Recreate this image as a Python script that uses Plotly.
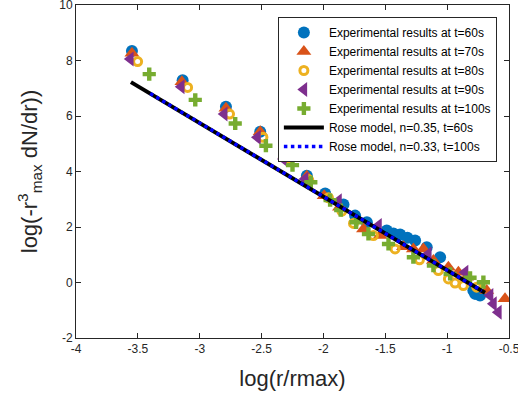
import plotly.graph_objects as go

# ---- data ----
x60 = [-3.548, -3.138, -2.788, -2.511, -2.314, -2.134, -1.986, -1.838, -1.744, -1.649, -1.488, -1.434,
       -1.380, -1.321, -1.259, -1.165, -1.057, -0.788, -0.774, -0.734]
y60 = [8.345, 7.29, 6.33, 5.43, 4.59, 3.85, 3.21, 2.81, 2.41, 2.17, 1.87, 1.77,
       1.73, 1.61, 1.51, 1.27, 0.91, -0.29, -0.41, -0.47]

x70 = [-3.548, -3.144, -2.788, -2.511, -2.309, -2.134, -1.994, -1.870, -1.676, -1.542, -1.353, -1.273,
       -1.192, -1.111, -0.990, -0.909, -0.842, -0.680, -0.532]
y70 = [8.26, 7.23, 6.28, 5.43, 4.60, 3.83, 3.13, 2.71, 1.93, 1.69, 1.29, 1.21,
       1.21, 0.79, 0.55, 0.37, 0.19, -0.29, -0.59]

x80 = [-3.502, -3.098, -2.759, -2.489, -2.290, -2.121, -1.959, -1.851, -1.757, -1.596, -1.421, -1.224,
       -1.071, -0.990, -0.936, -0.869, -0.761]
y80 = [7.96, 7.03, 6.07, 5.23, 4.45, 3.71, 3.05, 2.57, 2.13, 1.69, 1.21, 0.82,
       0.43, 0.13, -0.02, -0.11, -0.17]

x90 = [-3.561, -3.149, -2.802, -2.533, -2.323, -2.148, -1.878, -1.555, -1.152, -0.855, -0.653, -0.626, -0.586]
y90 = [8.05, 7.05, 6.07, 5.23, 4.45, 3.73, 2.95, 2.05, 1.03, 0.37, -0.47, -0.77, -1.07]

x100 = [-3.408, -3.036, -2.713, -2.465, -2.250, -2.102, -1.946, -1.860, -1.736, -1.636, -1.474, -1.273,
        -1.111, -0.976, -0.815, -0.707]
y100 = [7.51, 6.58, 5.73, 4.93, 4.23, 3.61, 2.97, 2.61, 2.17, 1.75, 1.39, 0.91,
        0.61, 0.31, 0.17, 0.01]

rose60_x = [-3.556, -0.694]
rose60_y = [7.22, -0.37]
rose100_x = [-3.40, -0.72]
rose100_y = [6.81, -0.30]

x_ticks = [-4, -3.5, -3, -2.5, -2, -1.5, -1, -0.5]
x_ticklabels = ["-4", "-3.5", "-3", "-2.5", "-2", "-1.5", "-1", "-0.5"]
y_ticks = [-2, 0, 2, 4, 6, 8, 10]
y_ticklabels = ["-2", "0", "2", "4", "6", "8", "10"]

FONT = "Liberation Sans, Arial, sans-serif"
AX = "#262626"

fig = go.Figure()
fig.add_trace(go.Scatter(x=x60, y=y60, mode="markers", name="Experimental results at t=60s",
                         marker=dict(symbol="circle", size=12, color="#0072BD",
                                     line=dict(width=0))))
fig.add_trace(go.Scatter(x=x70, y=y70, mode="markers", name="Experimental results at t=70s",
                         marker=dict(symbol="triangle-up", size=13, color="#D95319",
                                     line=dict(width=0))))
fig.add_trace(go.Scatter(x=x80, y=y80, mode="markers", name="Experimental results at t=80s",
                         marker=dict(symbol="circle-open", size=8, color="#EDB120",
                                     line=dict(width=3, color="#EDB120"))))
fig.add_trace(go.Scatter(x=x90, y=y90, mode="markers", name="Experimental results at t=90s",
                         marker=dict(symbol="triangle-left", size=13, color="#7E2F8E",
                                     line=dict(width=0))))
fig.add_trace(go.Scatter(x=x100, y=y100, mode="markers", name="Experimental results at t=100s",
                         marker=dict(symbol="cross", size=11, color="#77AC30",
                                     line=dict(width=0))))
fig.add_trace(go.Scatter(x=rose60_x, y=rose60_y, mode="lines", name="Rose model, n=0.35, t=60s",
                         line=dict(color="black", width=4)))
fig.add_trace(go.Scatter(x=rose100_x, y=rose100_y, mode="lines", name="Rose model, n=0.33, t=100s",
                         line=dict(color="#0000FF", width=3.5, dash="dot")))

axis_common = dict(showline=True, mirror="ticks", linecolor=AX, linewidth=1,
                   ticks="inside", ticklen=5, tickcolor=AX, tickwidth=1,
                   showgrid=False, zeroline=False, ticklabeloverflow="allow",
                   automargin=False,
                   tickfont=dict(family=FONT, size=12, color=AX))

fig.update_layout(
    width=518, height=401,
    margin=dict(l=76, r=9, t=5, b=63),
    paper_bgcolor="white", plot_bgcolor="white",
    font=dict(family=FONT, color=AX),
    xaxis=dict(range=[-4, -0.5], tickvals=x_ticks, ticktext=x_ticklabels,
               title=dict(text="log(r/rmax)", font=dict(family=FONT, size=22, color=AX)),
               **axis_common),
    yaxis=dict(range=[-2, 10], tickvals=y_ticks, ticktext=y_ticklabels,
               title=dict(text="log(-r<sup>3</sup><sub>max</sub> dN/dr))",
                          font=dict(family=FONT, size=22, color=AX)),
               **axis_common),
    legend=dict(x=0.972, y=0.964, xanchor="right", yanchor="top",
                bordercolor=AX, borderwidth=1, bgcolor="white",
                font=dict(family=FONT, size=12, color="black"),
                itemwidth=40, tracegroupgap=0),
    showlegend=True,
)

fig.write_html("out.html", config={"displayModeBar": False},
               post_script="document.body.style.margin='0';document.body.style.overflow='hidden';")
